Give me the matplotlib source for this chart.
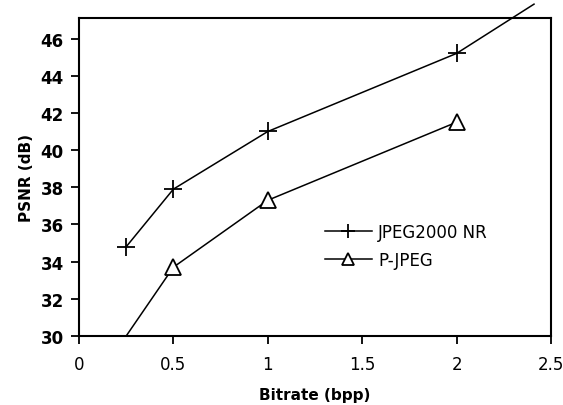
import matplotlib
matplotlib.use("Agg")
import matplotlib.pyplot as plt

plt.rcParams['font.family'] = ['DejaVu Sans']

bitrate_nr = [0.25, 0.5, 1.0, 2.0, 2.41]
psnr_nr = [34.8, 37.9, 41.0, 45.2, 47.85]
bitrate_pj = [0.25, 0.5, 1.0, 2.0]
psnr_pj = [30.0, 33.7, 37.3, 41.5]

x_ticks = [0, 0.5, 1, 1.5, 2, 2.5]
x_tick_labels = ['0', '0.5', '1', '1.5', '2', '2.5']
y_ticks = [30, 32, 34, 36, 38, 40, 42, 44, 46]


def main():
    fig = plt.figure(figsize=(5.63, 4.06), dpi=100)
    ax = fig.add_axes([0.1403, 0.170, 0.8384, 0.783])

    ax.plot(bitrate_nr, psnr_nr, color='black', lw=1.1, marker='+', ms=13,
            mew=1.3, markevery=[0, 1, 2, 3], clip_on=False, zorder=3,
            label='JPEG2000 NR')
    ax.plot(bitrate_pj, psnr_pj, color='black', lw=1.1, marker='^', ms=11,
            mfc='white', mew=1.3, markevery=[1, 2, 3], clip_on=False, zorder=3,
            label='P-JPEG')

    ax.set_xlim(0, 2.5)
    ax.set_ylim(30, 47.1)
    ax.set_xticks(x_ticks)
    ax.set_xticklabels(x_tick_labels)
    ax.set_yticks(y_ticks)
    ax.tick_params(direction='out', length=6, width=1.3, labelsize=12, pad=5)
    ax.tick_params(axis='x', pad=8)
    for lbl in ax.get_yticklabels():
        lbl.set_fontweight('bold')
    for s in ax.spines.values():
        s.set_linewidth(1.5)

    ax.set_xlabel('Bitrate (bpp)', fontsize=11, fontweight='bold', labelpad=10)
    ax.set_ylabel('PSNR (dB)', fontsize=11, fontweight='bold', labelpad=5)

    ax.legend(loc='upper left', bbox_to_anchor=(0.521, 0.355), frameon=False,
              fontsize=12, handlelength=2.8, handletextpad=0.4,
              labelspacing=0.57, borderpad=0, borderaxespad=0,
              markerscale=0.75)

    fig.savefig('out.png', dpi=100)


if __name__ == "__main__":
    main()
